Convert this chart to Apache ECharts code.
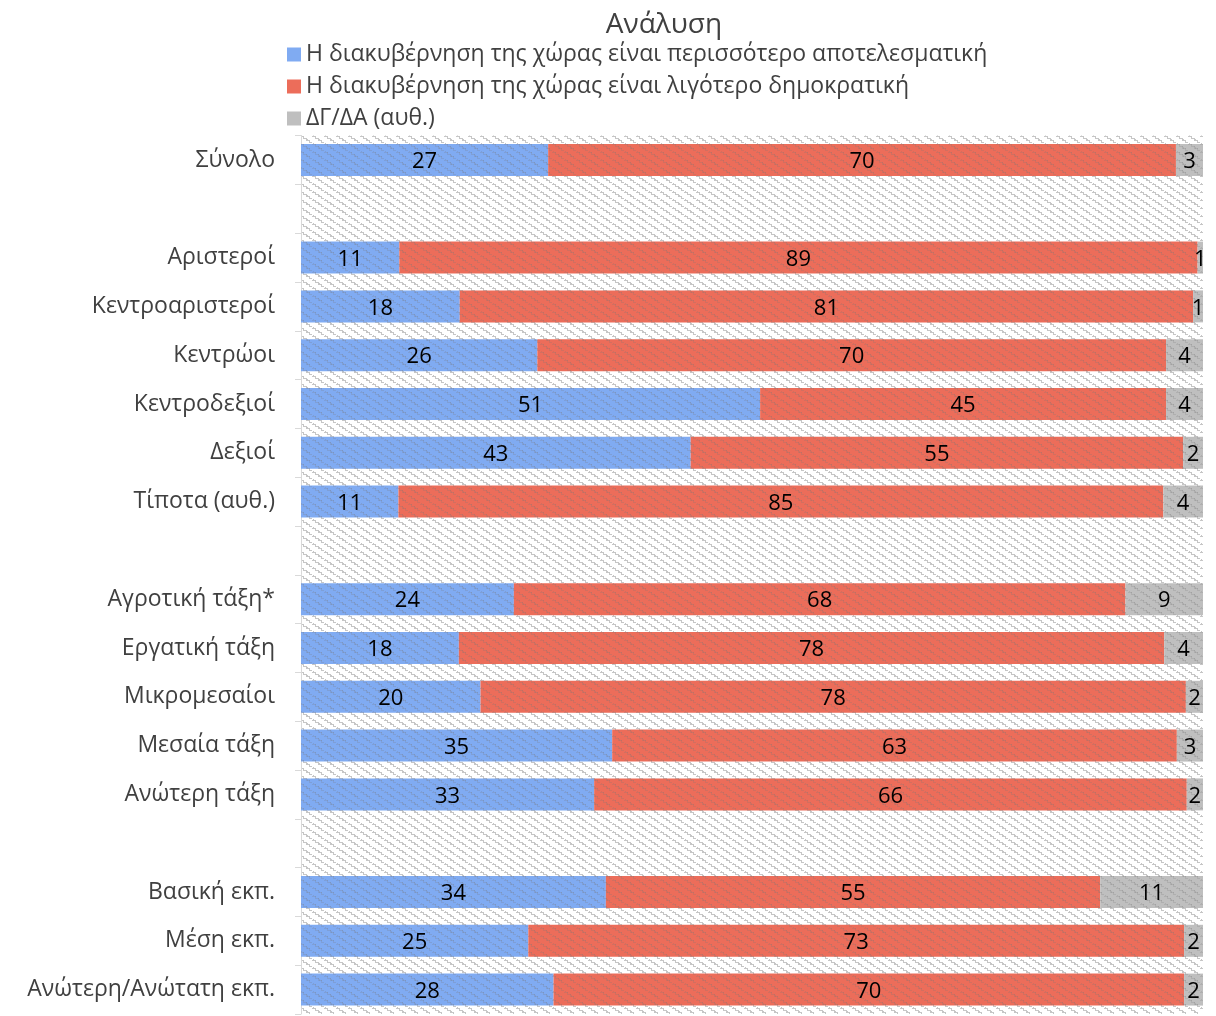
<!DOCTYPE html>
<html>
<head>
<meta charset="utf-8">
<script src="https://cdn.jsdelivr.net/npm/echarts@6/dist/echarts.min.js"></script>
<style>
  html, body { margin: 0; padding: 0; background: #fff; }
  #chart { width: 1216px; height: 1016px; }
</style>
</head>
<body>
<div id="chart"></div>
<script>
const categories = ['Σύνολο', '', 'Αριστεροί', 'Κεντροαριστεροί', 'Κεντρώοι', 'Κεντροδεξιοί', 'Δεξιοί', 'Τίποτα (αυθ.)', ' ', 'Αγροτική τάξη*', 'Εργατική τάξη', 'Μικρομεσαίοι', 'Μεσαία τάξη', 'Ανώτερη τάξη', '  ', 'Βασική εκπ.', 'Μέση εκπ.', 'Ανώτερη/Ανώτατη εκπ.'];
const seriesNames = ['Η διακυβέρνηση της χώρας είναι περισσότερο αποτελεσματική', 'Η διακυβέρνηση της χώρας είναι λιγότερο δημοκρατική', 'ΔΓ/ΔΑ (αυθ.)'];
const moreEffective = [27.4, null, 10.9, 17.6, 26.2, 50.9, 43.2, 10.8, null, 23.6, 17.5, 19.9, 34.5, 32.5, null, 33.8, 25.2, 28.0];
const lessDemocratic = [69.6, null, 88.5, 81.3, 69.7, 45.0, 54.6, 84.8, null, 67.8, 78.2, 78.2, 62.6, 65.7, null, 54.8, 72.7, 69.9];
const dkna = [3.0, null, 0.6, 1.1, 4.1, 4.1, 2.2, 4.4, null, 8.6, 4.3, 1.9, 2.9, 1.8, null, 11.4, 2.1, 2.1];
const colors = ['#80abf2', '#ec6d5a', '#bfbfbf'];

function makeTile(bg, line) {
  const c = document.createElement('canvas');
  c.width = 12; c.height = 8;
  const g = c.getContext('2d');
  if (bg) { g.fillStyle = bg; g.fillRect(0, 0, 12, 8); }
  g.fillStyle = line;
  // staircase running down-right: 3px across, 2px down
  for (let k = 0; k < 4; k++) {
    g.fillRect(3 * k, 2 * k, 4, 1);
    g.fillRect(3 * k + 3, 2 * k, 1, 2);
  }
  // small cross ticks
  g.fillRect(1, 7, 1, 2);
  g.fillRect(7, 3, 1, 2);
  return c;
}
const bgTile = makeTile(null, '#c6c6c6');
const fills = colors.map(col => ({ image: makeTile(col, 'rgba(120,120,120,0.22)'), repeat: 'repeat' }));

const font = 'Open Sans';
const chart = echarts.init(document.getElementById('chart'));
const labelFmt = p => (p.value == null ? '' : String(Math.round(p.value)));
const dataSets = [moreEffective, lessDemocratic, dkna];

chart.setOption({
  animation: false,
  textStyle: { fontFamily: font },
  title: {
    text: 'Ανάλυση',
    left: 659,
    textAlign: 'center',
    top: 6,
    textStyle: { fontFamily: font, fontSize: 28, fontWeight: 'normal', color: '#404040' }
  },
  legend: {
    orient: 'vertical',
    left: 282,
    top: 38,
    itemWidth: 14,
    itemHeight: 14,
    itemGap: 9,
    icon: 'rect',
    textStyle: { fontFamily: font, fontSize: 23, color: '#404040' },
    data: seriesNames.map((n, i) => ({ name: n, itemStyle: { color: colors[i] } }))
  },
  grid: {
    left: 301,
    right: 13,
    top: 135.6,
    bottom: 2,
    show: true,
    borderWidth: 0,
    backgroundColor: { image: bgTile, repeat: 'repeat' }
  },
  xAxis: {
    type: 'value',
    min: 0,
    max: 100,
    show: false
  },
  yAxis: {
    type: 'category',
    inverse: true,
    data: categories,
    axisLine: { show: true, lineStyle: { color: '#d9d9d9', width: 1 } },
    axisTick: { show: true, length: 6, lineStyle: { color: '#d9d9d9' } },
    axisLabel: { fontFamily: font, fontSize: 23, color: '#404040', margin: 26 },
    splitLine: { show: false }
  },
  series: dataSets.map((d, i) => ({
    name: seriesNames[i],
    type: 'bar',
    stack: 'total',
    data: d,
    barWidth: 32,
    itemStyle: { color: fills[i] },
    label: {
      show: true,
      position: 'inside',
      formatter: labelFmt,
      fontFamily: font,
      fontSize: 22,
      color: '#000000',
      offset: [0, 2]
    }
  }))
});
</script>
</body>
</html>
